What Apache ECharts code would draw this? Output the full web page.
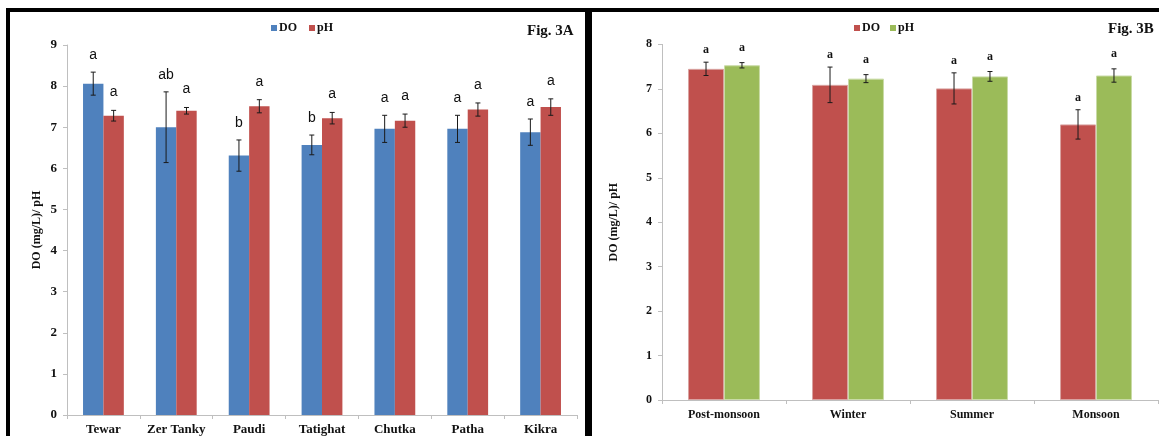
<!DOCTYPE html>
<html>
<head>
<meta charset="utf-8">
<script src="https://cdn.jsdelivr.net/npm/echarts@6/dist/echarts.min.js"></script>
<style>html,body{margin:0;padding:0;background:#fff}#c{width:1159px;height:436px}</style>
</head>
<body>
<div id="c"></div>
<script>
// Fig. 3A: sites
const catsA = ['Tewar', 'Zer Tanky', 'Paudi', 'Tatighat', 'Chutka', 'Patha', 'Kikra'];
const doA = [8.06, 7.00, 6.31, 6.57, 6.96, 6.96, 6.88];
const doAErr = [0.28, 0.86, 0.38, 0.24, 0.33, 0.33, 0.32];
const phA = [7.28, 7.40, 7.51, 7.22, 7.16, 7.43, 7.49];
const phAErr = [0.13, 0.08, 0.16, 0.14, 0.16, 0.16, 0.20];
const doALetters = ['a', 'ab', 'b', 'b', 'a', 'a', 'a'];
const phALetters = ['a', 'a', 'a', 'a', 'a', 'a', 'a'];
const ticksA = [0, 1, 2, 3, 4, 5, 6, 7, 8, 9];

// Fig. 3B: seasons
const catsB = ['Post-monsoon', 'Winter', 'Summer', 'Monsoon'];
const doB = [7.45, 7.09, 7.01, 6.20];
const doBErr = [0.15, 0.40, 0.35, 0.33];
const phB = [7.53, 7.23, 7.28, 7.30];
const phBErr = [0.06, 0.09, 0.11, 0.15];
const doBLetters = ['a', 'a', 'a', 'a'];
const phBLetters = ['a', 'a', 'a', 'a'];
const ticksB = [0, 1, 2, 3, 4, 5, 6, 7, 8];

const SERIF = '"Liberation Serif", "DejaVu Serif", serif';
const SANS = '"Liberation Sans", Arial, sans-serif';

function errRenderer(side, gapRatio, letters, offset, font) {
  return function (params, api) {
    const x = api.value(0), v = api.value(1), e = api.value(2);
    const band = api.size([1, 0])[0];
    const bw = band * (1 - gapRatio) / 2;
    const cx = api.coord([x, v])[0] + side * bw / 2;
    const top = api.coord([x, v + e])[1];
    const bot = api.coord([x, v - e])[1];
    const cap = 2.5;
    const st = { stroke: '#1a1a1a', lineWidth: 1 };
    return {
      type: 'group',
      children: [
        { type: 'line', shape: { x1: cx, y1: top, x2: cx, y2: bot }, style: st },
        { type: 'line', shape: { x1: cx - cap, y1: top, x2: cx + cap, y2: top }, style: st },
        { type: 'line', shape: { x1: cx - cap, y1: bot, x2: cx + cap, y2: bot }, style: st },
        { type: 'text', x: cx, y: top - offset,
          style: { text: letters[params.dataIndex], font: font, fill: '#111', align: 'center', verticalAlign: 'middle' } }
      ]
    };
  };
}

function errData(vals, errs) { return vals.map((v, i) => [i, v, errs[i]]); }

const gapA = 0.44, gapB = 0.42;

const axisLineStyle = { lineStyle: { color: '#bfbfbf', width: 1 } };

const option = {
  animation: false,
  backgroundColor: '#fff',
  legend: [
    { data: ['DO', 'pH'], left: 266, top: 17, itemWidth: 6, itemHeight: 6, itemGap: 12,
      icon: 'rect', textStyle: { fontFamily: SERIF, fontWeight: 'bold', fontSize: 12, color: '#111', padding: [0, 0, 0, -3] },
      itemStyle: { borderWidth: 0 } },
    { data: ['DO ', 'pH '], left: 849, top: 17, itemWidth: 6, itemHeight: 6, itemGap: 10,
      icon: 'rect', formatter: n => n.trim(),
      textStyle: { fontFamily: SERIF, fontWeight: 'bold', fontSize: 12, color: '#111', padding: [0, 0, 0, -3] },
      itemStyle: { borderWidth: 0 } }
  ],
  grid: [
    { left: 67, top: 45, width: 510, height: 371 },
    { left: 662, top: 44.4, width: 496, height: 355.6 }
  ],
  xAxis: [
    { type: 'category', gridIndex: 0, data: catsA,
      axisLine: axisLineStyle, axisTick: { show: true, length: 4, lineStyle: { color: '#bfbfbf' } },
      axisLabel: { interval: 0, margin: 8, fontFamily: SERIF, fontWeight: 'bold', fontSize: 13, color: '#111' } },
    { type: 'category', gridIndex: 1, data: catsB,
      axisLine: axisLineStyle, axisTick: { show: true, length: 4, lineStyle: { color: '#bfbfbf' } },
      axisLabel: { interval: 0, margin: 9, fontFamily: SERIF, fontWeight: 'bold', fontSize: 12, color: '#111' } }
  ],
  yAxis: [
    { type: 'value', gridIndex: 0, min: ticksA[0], max: ticksA[ticksA.length - 1], interval: 1,
      name: 'DO (mg/L)/ pH', nameLocation: 'middle', nameGap: 24,
      nameTextStyle: { fontFamily: SERIF, fontWeight: 'bold', fontSize: 12, color: '#111' },
      axisLine: { show: true, lineStyle: { color: '#bfbfbf' } },
      axisTick: { show: true, length: 4, lineStyle: { color: '#bfbfbf' } },
      splitLine: { show: false },
      axisLabel: { margin: 10, fontFamily: SERIF, fontWeight: 'bold', fontSize: 13, color: '#111' } },
    { type: 'value', gridIndex: 1, min: ticksB[0], max: ticksB[ticksB.length - 1], interval: 1,
      name: 'DO (mg/L)/ pH', nameLocation: 'middle', nameGap: 42,
      nameTextStyle: { fontFamily: SERIF, fontWeight: 'bold', fontSize: 12, color: '#111' },
      axisLine: { show: true, lineStyle: { color: '#bfbfbf' } },
      axisTick: { show: true, length: 4, lineStyle: { color: '#bfbfbf' } },
      splitLine: { show: false },
      axisLabel: { margin: 10, fontFamily: SERIF, fontWeight: 'bold', fontSize: 12, color: '#111' } }
  ],
  series: [
    { name: 'DO', type: 'bar', xAxisIndex: 0, yAxisIndex: 0, data: doA, barGap: '0%', barCategoryGap: (gapA * 100) + '%',
      itemStyle: { color: '#4f81bd' } },
    { name: 'pH', type: 'bar', xAxisIndex: 0, yAxisIndex: 0, data: phA, barGap: '0%', barCategoryGap: (gapA * 100) + '%',
      itemStyle: { color: '#c0504d' } },
    { type: 'custom', xAxisIndex: 0, yAxisIndex: 0, z: 5, data: errData(doA, doAErr),
      encode: { x: 0, y: 1 }, renderItem: errRenderer(-1, gapA, doALetters, 17, '14px ' + SANS) },
    { type: 'custom', xAxisIndex: 0, yAxisIndex: 0, z: 5, data: errData(phA, phAErr),
      encode: { x: 0, y: 1 }, renderItem: errRenderer(1, gapA, phALetters, 18, '14px ' + SANS) },

    { name: 'DO ', type: 'bar', xAxisIndex: 1, yAxisIndex: 1, data: doB, barGap: '0%', barCategoryGap: (gapB * 100) + '%',
      itemStyle: { color: '#c0504d', borderColor: '#d9a3a1', borderWidth: 1 } },
    { name: 'pH ', type: 'bar', xAxisIndex: 1, yAxisIndex: 1, data: phB, barGap: '0%', barCategoryGap: (gapB * 100) + '%',
      itemStyle: { color: '#9bbb59', borderColor: '#c9dba6', borderWidth: 1 } },
    { type: 'custom', xAxisIndex: 1, yAxisIndex: 1, z: 5, data: errData(doB, doBErr),
      encode: { x: 0, y: 1 }, renderItem: errRenderer(-1, gapB, doBLetters, 12, 'bold 12px ' + SERIF) },
    { type: 'custom', xAxisIndex: 1, yAxisIndex: 1, z: 5, data: errData(phB, phBErr),
      encode: { x: 0, y: 1 }, renderItem: errRenderer(1, gapB, phBLetters, 15, 'bold 12px ' + SERIF) }
  ],
  graphic: [
    { type: 'rect', left: 6, top: 8, shape: { width: 1153, height: 4 }, style: { fill: '#000' } },
    { type: 'rect', left: 6, top: 8, shape: { width: 4, height: 428 }, style: { fill: '#000' } },
    { type: 'rect', left: 585, top: 8, shape: { width: 7, height: 428 }, style: { fill: '#000' } },
    { type: 'text', left: 527, top: 24, style: { text: 'Fig. 3A', font: 'bold 15px ' + SERIF, fill: '#111' } },
    { type: 'text', left: 1108, top: 22, style: { text: 'Fig. 3B', font: 'bold 15px ' + SERIF, fill: '#111' } }
  ]
};

const chart = echarts.init(document.getElementById('c'), null, { renderer: 'canvas' });
chart.setOption(option);
</script>
</body>
</html>
